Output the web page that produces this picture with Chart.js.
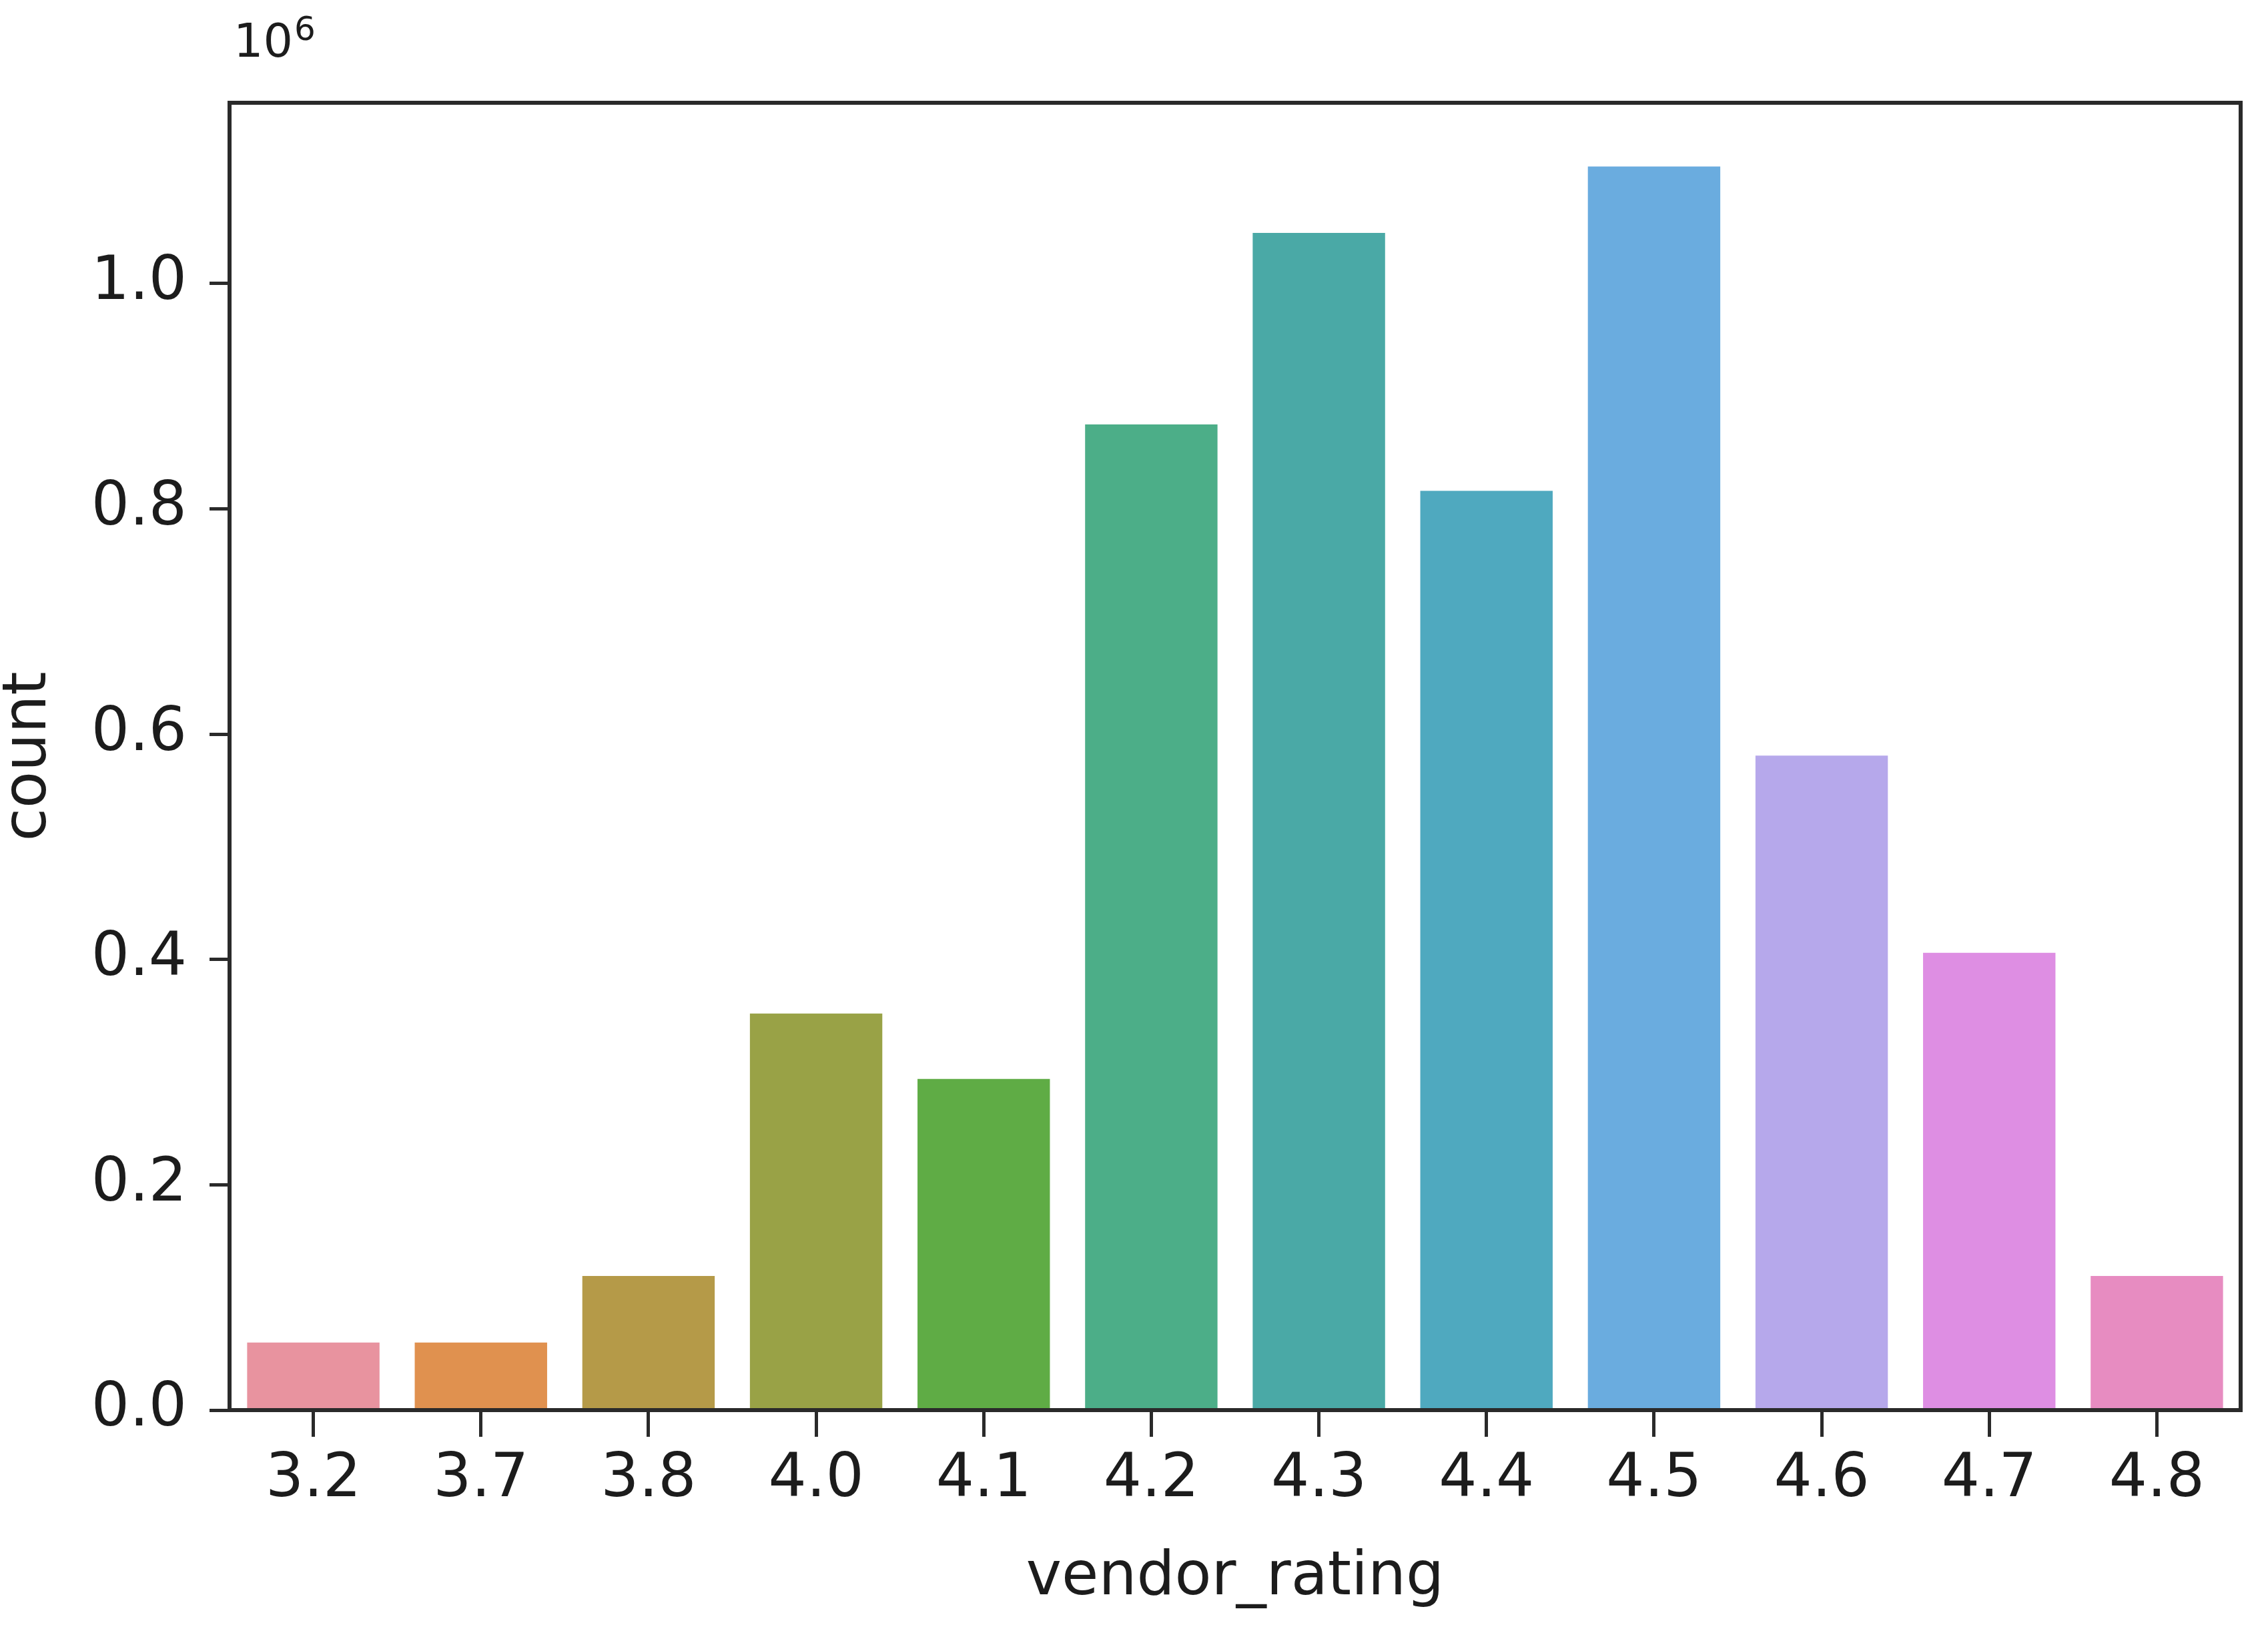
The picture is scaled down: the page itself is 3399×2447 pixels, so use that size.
<!DOCTYPE html>
<html>
<head>
<meta charset="utf-8">
<script src="https://cdn.jsdelivr.net/npm/chart.js@4/dist/chart.umd.min.js"></script>
<style>
  html, body { margin: 0; padding: 0; background: #ffffff; }
  #wrap { width: 3399px; height: 2447px; }
</style>
</head>
<body>
<div id="wrap"><canvas id="c" width="3399" height="2447"></canvas></div>
<script>
// ---- data ----
const categories = ["3.2", "3.7", "3.8", "4.0", "4.1", "4.2", "4.3", "4.4", "4.5", "4.6", "4.7", "4.8"];
const counts = [60000, 60000, 119000, 352000, 294000, 875000, 1045000, 816000, 1104000, 581000, 406000, 119000];
const barColors = ["#e8939f", "#e0914f", "#b59a48", "#99a246", "#5fac45", "#4cae88", "#4aa9a6", "#4fa9bf", "#6aacdf", "#b6a8eb", "#de8ee3", "#e78cc1"];
const yTickValues = [0, 0.2, 0.4, 0.6, 0.8, 1.0];
const xTitle = "vendor_rating";
const yTitle = "count";
const scaleBase = "10";
const scaleExp = "6";

const FONT = "DejaVu Sans";
const TEXT = "#1c1c1c";
const AXIS = "#2a2a2a";

const framePlugin = {
  id: "frame",
  afterDraw(chart) {
    const { ctx, chartArea: a } = chart;
    ctx.save();
    ctx.strokeStyle = AXIS;
    ctx.lineWidth = 6;
    ctx.strokeRect(a.left, a.top, a.right - a.left, a.bottom - a.top);
    // offset text (10^6)
    ctx.fillStyle = TEXT;
    ctx.textBaseline = "alphabetic";
    ctx.textAlign = "left";
    ctx.font = "70px '" + FONT + "'";
    ctx.fillText(scaleBase, a.left + 6, 85);
    const w = ctx.measureText(scaleBase).width;
    ctx.font = "50px '" + FONT + "'";
    ctx.fillText(scaleExp, a.left + 6 + w + 2, 60);
    ctx.restore();
  }
};

new Chart(document.getElementById("c"), {
  type: "bar",
  data: {
    labels: categories,
    datasets: [{
      data: counts,
      backgroundColor: barColors,
      borderWidth: 0,
      categoryPercentage: 1.0,
      barPercentage: 0.79
    }]
  },
  options: {
    responsive: false,
    animation: false,
    devicePixelRatio: 1,
    layout: { padding: { top: 154, right: 41, left: 0, bottom: 0 } },
    plugins: { legend: { display: false }, tooltip: { enabled: false } },
    scales: {
      x: {
        offset: true,
        grid: { display: true, offset: false, drawOnChartArea: false, drawTicks: true, tickLength: 40, tickColor: AXIS, tickWidth: 5 },
        border: { display: false },
        ticks: { color: TEXT, font: { family: FONT, size: 90 }, padding: 12, maxRotation: 0, autoSkip: false },
        title: { display: true, text: xTitle, color: TEXT, font: { family: FONT, size: 90, lineHeight: 1 }, padding: { top: 0, bottom: 36 } },
        afterFit(s) { s.height = 334; }
      },
      y: {
        min: 0,
        max: 1160500,
        grid: { display: true, drawOnChartArea: false, drawTicks: true, tickLength: 30, tickColor: AXIS, tickWidth: 5 },
        border: { display: false },
        ticks: {
          stepSize: 200000,
          includeBounds: false,
          color: TEXT,
          font: { family: FONT, size: 90 },
          padding: 34,
          callback: (v) => (v / 1e6).toFixed(1)
        },
        afterBuildTicks(s) {
          s.ticks = yTickValues.map(v => ({ value: Math.round(v * 1e6) }));
        },
        title: { display: true, text: yTitle, color: TEXT, font: { family: FONT, size: 90, lineHeight: 1 }, padding: 0 },
        afterFit(s) { s.width = 344; }
      }
    }
  },
  plugins: [framePlugin]
});
</script>
</body>
</html>
